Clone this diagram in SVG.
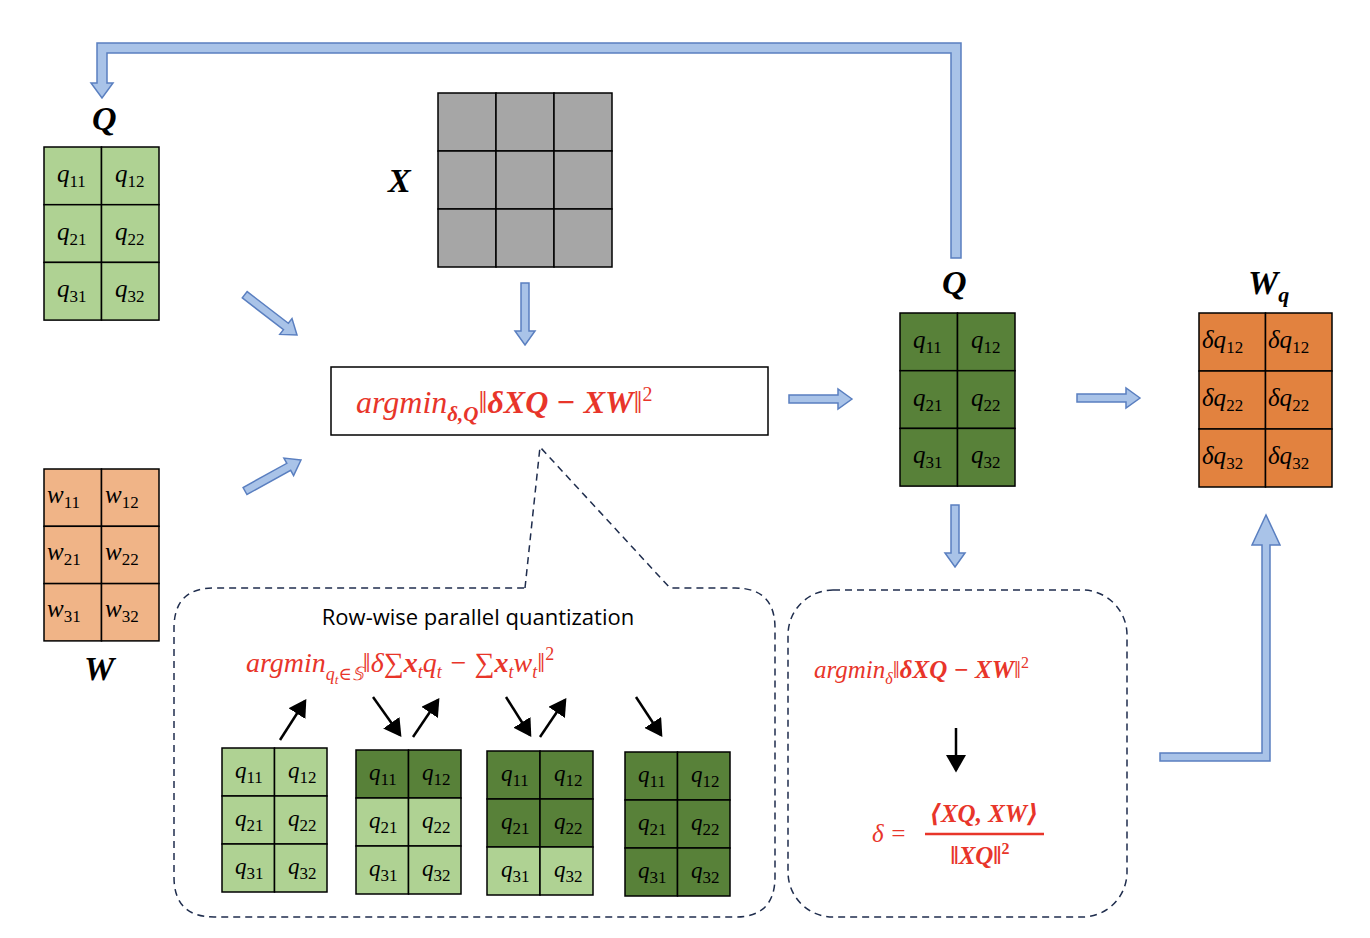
<svg xmlns="http://www.w3.org/2000/svg" width="1370" height="938" viewBox="0 0 1370 938">
<style>
.c{stroke:#000;stroke-width:1.5}
.lg{fill:#afd293}.dg{fill:#588139}.gr{fill:#a6a6a6}.lo{fill:#f0b487}.do{fill:#e2823f}
.m{font-family:"Liberation Serif","DejaVu Serif",serif;font-style:italic;font-size:25px;fill:#000}
.ms{font-family:"Liberation Serif","DejaVu Serif",serif;font-style:italic;font-size:23px;fill:#000}
.s{font-style:normal;font-size:17px}
.lab{font-family:"Liberation Serif","DejaVu Serif",serif;font-style:italic;font-weight:bold;font-size:34px;fill:#000}
.red{font-family:"Liberation Serif","DejaVu Serif",serif;font-style:italic;fill:#e8352a}
.b{font-weight:bold}
.blk{fill:#a9c3e8;stroke:#5a7fc0;stroke-width:1.5}
.dash{fill:none;stroke:#1f2d4d;stroke-width:1.5;stroke-dasharray:7 5}
.ar{stroke:#000;stroke-width:2.5;fill:none;marker-end:url(#ah)}
</style>
<defs>
<marker id="ah" markerWidth="8" markerHeight="8" refX="6" refY="4" orient="auto" markerUnits="strokeWidth"><path d="M0,0 L7,4 L0,8 Z" fill="#000"/></marker>
</defs>
<rect width="1370" height="938" fill="#fff"/>

<g id="Q_in">
<text class="lab" x="92" y="130">Q</text>
<rect class="lg c" x="44" y="147" width="57.5" height="57.7"/><rect class="lg c" x="101.5" y="147" width="57.5" height="57.7"/>
<rect class="lg c" x="44" y="204.7" width="57.5" height="57.7"/><rect class="lg c" x="101.5" y="204.7" width="57.5" height="57.7"/>
<rect class="lg c" x="44" y="262.4" width="57.5" height="57.7"/><rect class="lg c" x="101.5" y="262.4" width="57.5" height="57.7"/>
<text class="m" x="57" y="182">q<tspan class="s" dy="5">11</tspan></text><text class="m" x="115" y="182">q<tspan class="s" dy="5">12</tspan></text>
<text class="m" x="57" y="240">q<tspan class="s" dy="5">21</tspan></text><text class="m" x="115" y="240">q<tspan class="s" dy="5">22</tspan></text>
<text class="m" x="57" y="297">q<tspan class="s" dy="5">31</tspan></text><text class="m" x="115" y="297">q<tspan class="s" dy="5">32</tspan></text>
</g>

<g id="X">
<text class="lab" x="388" y="192">X</text>
<rect class="gr c" x="438" y="93" width="58" height="58"/><rect class="gr c" x="496" y="93" width="58" height="58"/><rect class="gr c" x="554" y="93" width="58" height="58"/>
<rect class="gr c" x="438" y="151" width="58" height="58"/><rect class="gr c" x="496" y="151" width="58" height="58"/><rect class="gr c" x="554" y="151" width="58" height="58"/>
<rect class="gr c" x="438" y="209" width="58" height="58"/><rect class="gr c" x="496" y="209" width="58" height="58"/><rect class="gr c" x="554" y="209" width="58" height="58"/>
</g>

<g id="W">
<rect class="lo c" x="44" y="469" width="57.5" height="57.3"/><rect class="lo c" x="101.5" y="469" width="57.5" height="57.3"/>
<rect class="lo c" x="44" y="526.3" width="57.5" height="57.3"/><rect class="lo c" x="101.5" y="526.3" width="57.5" height="57.3"/>
<rect class="lo c" x="44" y="583.6" width="57.5" height="57.3"/><rect class="lo c" x="101.5" y="583.6" width="57.5" height="57.3"/>
<text class="m" x="47" y="503">w<tspan class="s" dy="5">11</tspan></text><text class="m" x="105" y="503">w<tspan class="s" dy="5">12</tspan></text>
<text class="m" x="47" y="560">w<tspan class="s" dy="5">21</tspan></text><text class="m" x="105" y="560">w<tspan class="s" dy="5">22</tspan></text>
<text class="m" x="47" y="617">w<tspan class="s" dy="5">31</tspan></text><text class="m" x="105" y="617">w<tspan class="s" dy="5">32</tspan></text>
<text class="lab" x="84" y="680">W</text>
</g>

<g id="objective">
<rect x="331" y="367" width="437" height="68" fill="#fff" stroke="#000" stroke-width="1.5"/>
<text class="red" x="356" y="413" font-size="32">argmin<tspan class="b" font-size="21" dy="8">δ,Q</tspan><tspan dy="-8" font-style="normal">‖</tspan><tspan class="b">δXQ − XW</tspan><tspan font-style="normal">‖</tspan><tspan font-style="normal" font-size="20" dy="-12">2</tspan></text>
</g>

<g id="Q_mid">
<text class="lab" x="942" y="294">Q</text>
<rect class="dg c" x="900" y="313" width="57.5" height="57.7"/><rect class="dg c" x="957.5" y="313" width="57.5" height="57.7"/>
<rect class="dg c" x="900" y="370.7" width="57.5" height="57.7"/><rect class="dg c" x="957.5" y="370.7" width="57.5" height="57.7"/>
<rect class="dg c" x="900" y="428.4" width="57.5" height="57.7"/><rect class="dg c" x="957.5" y="428.4" width="57.5" height="57.7"/>
<text class="m" x="913" y="348">q<tspan class="s" dy="5">11</tspan></text><text class="m" x="971" y="348">q<tspan class="s" dy="5">12</tspan></text>
<text class="m" x="913" y="406">q<tspan class="s" dy="5">21</tspan></text><text class="m" x="971" y="406">q<tspan class="s" dy="5">22</tspan></text>
<text class="m" x="913" y="463">q<tspan class="s" dy="5">31</tspan></text><text class="m" x="971" y="463">q<tspan class="s" dy="5">32</tspan></text>
</g>

<g id="Wq">
<text class="lab" x="1248" y="294">W<tspan font-size="22" dy="8">q</tspan></text>
<rect class="do c" x="1199" y="313" width="66.5" height="58"/><rect class="do c" x="1265.5" y="313" width="66.5" height="58"/>
<rect class="do c" x="1199" y="371" width="66.5" height="58"/><rect class="do c" x="1265.5" y="371" width="66.5" height="58"/>
<rect class="do c" x="1199" y="429" width="66.5" height="58"/><rect class="do c" x="1265.5" y="429" width="66.5" height="58"/>
<text class="m" x="1202" y="348">δq<tspan class="s" dy="5">12</tspan></text><text class="m" x="1268" y="348">δq<tspan class="s" dy="5">12</tspan></text>
<text class="m" x="1202" y="406">δq<tspan class="s" dy="5">22</tspan></text><text class="m" x="1268" y="406">δq<tspan class="s" dy="5">22</tspan></text>
<text class="m" x="1202" y="464">δq<tspan class="s" dy="5">32</tspan></text><text class="m" x="1268" y="464">δq<tspan class="s" dy="5">32</tspan></text>
</g>

<g id="rowwise">
<path class="dash" d="M525,588 L540,447 L670,588 L735,588 Q775,588 775,628 L775,877 Q775,917 735,917 L214,917 Q174,917 174,877 L174,628 Q174,588 214,588 Z"/>
<text x="478" y="625" text-anchor="middle" font-family="'Open Sans','Liberation Sans',sans-serif" font-size="22" fill="#000">Row-wise parallel quantization</text>
<text class="red" x="246" y="672" font-size="28">argmin<tspan font-size="18" dy="8">q</tspan><tspan font-size="13" dy="4">t</tspan><tspan font-size="18" dy="-4">∈𝕊</tspan><tspan dy="-8" font-style="normal">‖</tspan>δ<tspan font-style="normal">∑</tspan><tspan class="b">x</tspan><tspan font-size="18" dy="6">t</tspan><tspan dy="-6">q</tspan><tspan font-size="18" dy="6">t</tspan><tspan dy="-6"> − </tspan><tspan font-style="normal">∑</tspan><tspan class="b">x</tspan><tspan font-size="18" dy="6">t</tspan><tspan dy="-6">w</tspan><tspan font-size="18" dy="6">t</tspan><tspan dy="-6" font-style="normal">‖</tspan><tspan font-style="normal" font-size="18" dy="-12">2</tspan></text>
</g>

<g id="m1">
<rect class="lg c" x="222" y="748" width="52.5" height="48"/><rect class="lg c" x="274.5" y="748" width="52.5" height="48"/>
<rect class="lg c" x="222" y="796" width="52.5" height="48"/><rect class="lg c" x="274.5" y="796" width="52.5" height="48"/>
<rect class="lg c" x="222" y="844" width="52.5" height="48"/><rect class="lg c" x="274.5" y="844" width="52.5" height="48"/>
<text class="ms" x="235" y="778">q<tspan class="s" dy="5">11</tspan></text><text class="ms" x="288" y="778">q<tspan class="s" dy="5">12</tspan></text>
<text class="ms" x="235" y="826">q<tspan class="s" dy="5">21</tspan></text><text class="ms" x="288" y="826">q<tspan class="s" dy="5">22</tspan></text>
<text class="ms" x="235" y="874">q<tspan class="s" dy="5">31</tspan></text><text class="ms" x="288" y="874">q<tspan class="s" dy="5">32</tspan></text>
</g>
<g id="m2">
<rect class="dg c" x="356" y="750" width="52.5" height="48"/><rect class="dg c" x="408.5" y="750" width="52.5" height="48"/>
<rect class="lg c" x="356" y="798" width="52.5" height="48"/><rect class="lg c" x="408.5" y="798" width="52.5" height="48"/>
<rect class="lg c" x="356" y="846" width="52.5" height="48"/><rect class="lg c" x="408.5" y="846" width="52.5" height="48"/>
<text class="ms" x="369" y="780">q<tspan class="s" dy="5">11</tspan></text><text class="ms" x="422" y="780">q<tspan class="s" dy="5">12</tspan></text>
<text class="ms" x="369" y="828">q<tspan class="s" dy="5">21</tspan></text><text class="ms" x="422" y="828">q<tspan class="s" dy="5">22</tspan></text>
<text class="ms" x="369" y="876">q<tspan class="s" dy="5">31</tspan></text><text class="ms" x="422" y="876">q<tspan class="s" dy="5">32</tspan></text>
</g>
<g id="m3">
<rect class="dg c" x="487" y="751" width="53" height="48"/><rect class="dg c" x="540" y="751" width="53" height="48"/>
<rect class="dg c" x="487" y="799" width="53" height="48"/><rect class="dg c" x="540" y="799" width="53" height="48"/>
<rect class="lg c" x="487" y="847" width="53" height="48"/><rect class="lg c" x="540" y="847" width="53" height="48"/>
<text class="ms" x="501" y="781">q<tspan class="s" dy="5">11</tspan></text><text class="ms" x="554" y="781">q<tspan class="s" dy="5">12</tspan></text>
<text class="ms" x="501" y="829">q<tspan class="s" dy="5">21</tspan></text><text class="ms" x="554" y="829">q<tspan class="s" dy="5">22</tspan></text>
<text class="ms" x="501" y="877">q<tspan class="s" dy="5">31</tspan></text><text class="ms" x="554" y="877">q<tspan class="s" dy="5">32</tspan></text>
</g>
<g id="m4">
<rect class="dg c" x="625" y="752" width="52.5" height="48"/><rect class="dg c" x="677.5" y="752" width="52.5" height="48"/>
<rect class="dg c" x="625" y="800" width="52.5" height="48"/><rect class="dg c" x="677.5" y="800" width="52.5" height="48"/>
<rect class="dg c" x="625" y="848" width="52.5" height="48"/><rect class="dg c" x="677.5" y="848" width="52.5" height="48"/>
<text class="ms" x="638" y="782">q<tspan class="s" dy="5">11</tspan></text><text class="ms" x="691" y="782">q<tspan class="s" dy="5">12</tspan></text>
<text class="ms" x="638" y="830">q<tspan class="s" dy="5">21</tspan></text><text class="ms" x="691" y="830">q<tspan class="s" dy="5">22</tspan></text>
<text class="ms" x="638" y="878">q<tspan class="s" dy="5">31</tspan></text><text class="ms" x="691" y="878">q<tspan class="s" dy="5">32</tspan></text>
</g>

<g id="delta_box">
<rect class="dash" x="788" y="590" width="339" height="327" rx="45"/>
<text class="red" x="814" y="678" font-size="25">argmin<tspan font-size="16" dy="6">δ</tspan><tspan dy="-6" font-style="normal">‖</tspan><tspan class="b">δXQ  − XW</tspan><tspan font-style="normal">‖</tspan><tspan font-style="normal" font-size="16" dy="-10">2</tspan></text>
<text class="red" x="872" y="842" font-size="25">δ =</text>
<line x1="925" y1="834" x2="1044" y2="834" stroke="#e8352a" stroke-width="2.5"/>
<text class="red b" x="984" y="822" font-size="25" text-anchor="middle">⟨XQ, XW⟩</text>
<text class="red b" x="980" y="864" font-size="25" text-anchor="middle"><tspan font-style="normal">‖</tspan>XQ<tspan font-style="normal">‖</tspan><tspan font-style="normal" font-size="16" dy="-10">2</tspan></text>
</g>

<g id="connectors">
<line class="ar" x1="280" y1="740" x2="305" y2="701"/>
<line class="ar" x1="373" y1="697" x2="400" y2="735"/>
<line class="ar" x1="413" y1="737" x2="438" y2="700"/>
<line class="ar" x1="506" y1="697" x2="530" y2="735"/>
<line class="ar" x1="540" y1="737" x2="565" y2="700"/>
<line class="ar" x1="636" y1="697" x2="661" y2="735"/>
<line class="ar" x1="956" y1="728" x2="956" y2="770"/>
<path class="blk" d="M961,258 L961,43 L97,43 L97,83 L91,83 L102,98 L113,83 L107,83 L107,53 L951,53 L951,258 Z"/>
<path class="blk" d="M1160,753 L1160,761 L1270,761 L1270,545 L1280,545 L1266,515 L1252,545 L1262,545 L1262,753 Z"/>
<path class="blk" transform="translate(297,335) rotate(37.6)" d="M0,0 L-14,-10 L-14,-4 L-66,-4 L-66,4 L-14,4 L-14,10 Z"/>
<path class="blk" transform="translate(301,460) rotate(-29)" d="M0,0 L-14,-10 L-14,-4 L-64,-4 L-64,4 L-14,4 L-14,10 Z"/>
<path class="blk" transform="translate(525,345) rotate(90)" d="M0,0 L-14,-10 L-14,-4 L-62,-4 L-62,4 L-14,4 L-14,10 Z"/>
<path class="blk" transform="translate(852,399)" d="M0,0 L-14,-10 L-14,-4 L-63,-4 L-63,4 L-14,4 L-14,10 Z"/>
<path class="blk" transform="translate(1140,398)" d="M0,0 L-14,-10 L-14,-4 L-63,-4 L-63,4 L-14,4 L-14,10 Z"/>
<path class="blk" transform="translate(955,567) rotate(90)" d="M0,0 L-14,-10 L-14,-4 L-62,-4 L-62,4 L-14,4 L-14,10 Z"/>
</g>
</svg>
